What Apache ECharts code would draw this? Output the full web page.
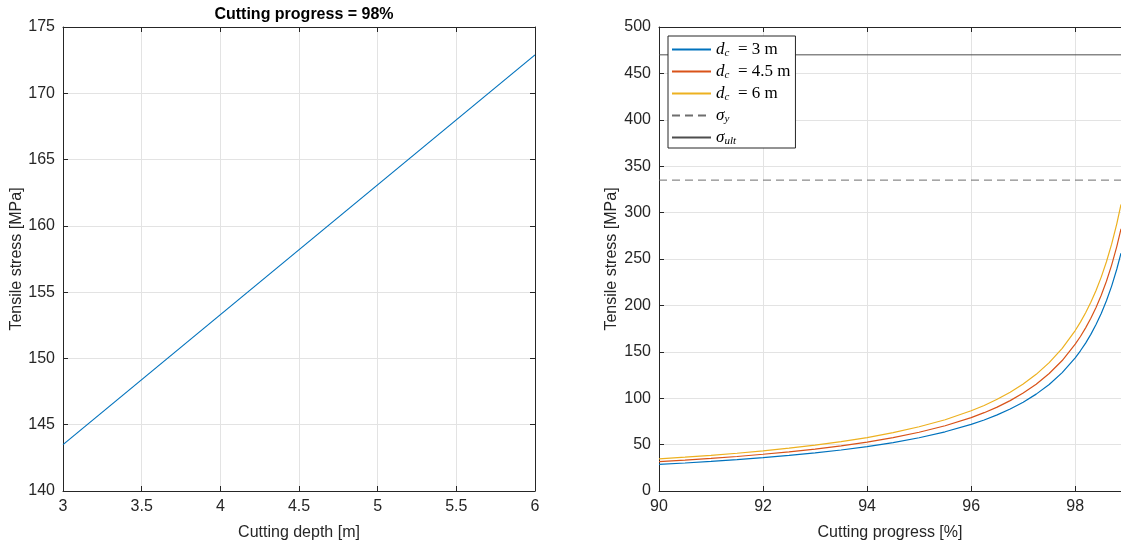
<!DOCTYPE html>
<html>
<head>
    <meta charset="utf-8"/>
    <title>Tensile stress vs cutting</title>
    <script src="https://cdn.jsdelivr.net/npm/echarts@6/dist/echarts.min.js"></script>
</head>
<body style="margin:0;overflow:hidden">
<div id="container" style="width:1121px;height:546px"></div>
<script type="text/javascript">
    // left plot: stress at 98% progress vs cutting depth
    var depth = [3, 6];
    var stressAt98 = [143.5, 172.9];

    // right plot: stress vs cutting progress, one curve per cutting depth
    var progress = [90, 90.5, 91, 91.5, 92, 92.5, 93, 93.5, 94, 94.5, 95, 95.5, 96, 96.25, 96.5, 96.75,
        97, 97.25, 97.5, 97.75, 98, 98.1, 98.2, 98.3, 98.4, 98.5, 98.6, 98.7, 98.8, 98.88];
    var stress3 = [28.7, 30.2, 31.9, 33.8, 35.9, 38.3, 41.0, 44.2, 47.8, 52.2, 57.4, 63.8, 71.8, 76.5, 82.0, 88.3,
        95.7, 104.4, 114.8, 127.6, 143.5, 151.1, 159.4, 168.8, 179.4, 191.3, 205.0, 220.8, 239.2, 256.3];
    var stress45 = [31.6, 33.3, 35.2, 37.2, 39.6, 42.2, 45.2, 48.7, 52.7, 57.5, 63.3, 70.3, 79.1, 84.4, 90.4, 97.4,
        105.5, 115.1, 126.6, 140.6, 158.2, 166.5, 175.8, 186.1, 197.8, 210.9, 226.0, 243.4, 263.7, 282.5];
    var stress6 = [34.6, 36.4, 38.4, 40.7, 43.2, 46.1, 49.4, 53.2, 57.6, 62.9, 69.2, 76.8, 86.5, 92.2, 98.8, 106.4,
        115.3, 125.7, 138.3, 153.7, 172.9, 182.0, 192.1, 203.4, 216.1, 230.5, 247.0, 266.0, 288.2, 308.8];
    var sigmaY = 335;
    var sigmaUlt = 470;

    var progressMax = 98.88;
    var axisCol = '#262626';
    var gridCol = '#e3e3e3';
    var sans = 'Liberation Sans';

    function pairs(xs, ys) {
        return xs.map(function (x, i) { return [x, ys[i]]; });
    }

    function axis(opts) {
        var base = {
            type: 'value',
            axisLine: {show: true, onZero: false, lineStyle: {color: axisCol, width: 1}},
            axisTick: {show: true, inside: true, length: 5, lineStyle: {color: axisCol}},
            axisLabel: {color: axisCol, fontSize: 16, fontFamily: sans},
            splitLine: {show: false},
            nameTextStyle: {color: axisCol, fontSize: 16, fontFamily: sans}
        };
        for (var k in opts) base[k] = opts[k];
        return base;
    }

    var legendNames = {
        'dc3': '{i|d}{s|c}{n|  = 3 m}',
        'dc45': '{i|d}{s|c}{n|  = 4.5 m}',
        'dc6': '{i|d}{s|c}{n|  = 6 m}',
        'sy': '{i|σ}{s|y}',
        'sult': '{i|σ}{s|ult}'
    };

    var dom = document.getElementById("container");
    var myChart = echarts.init(dom);
    var option = {
        animation: false,
        backgroundColor: '#fff',
        title: {
            text: 'Cutting progress = 98%',
            left: 299,
            top: 2,
            textAlign: 'center',
            textStyle: {fontSize: 16, fontWeight: 'bold', fontFamily: sans, color: '#000'}
        },
        grid: [
            {left: 63, width: 472, top: 27, height: 465},
            {left: 659, right: 0, top: 27, height: 465}
        ],
        legend: {
            orient: 'vertical',
            left: 668,
            top: 36,
            padding: [5, 5, 1, 3],
            itemWidth: 39,
            itemHeight: 12,
            itemGap: 4,
            backgroundColor: '#fff',
            borderColor: axisCol,
            borderWidth: 1,
            itemStyle: {opacity: 0},
            data: ['dc3', 'dc45', 'dc6', 'sy', 'sult'],
            formatter: function (name) { return legendNames[name]; },
            textStyle: {
                fontFamily: 'Liberation Serif', fontSize: 16, color: '#000',
                rich: {
                    i: {fontFamily: 'Liberation Serif', fontStyle: 'italic', fontSize: 17, color: '#000'},
                    s: {fontFamily: 'Liberation Serif', fontStyle: 'italic', fontSize: 11, color: '#000', padding: [8, 0, 0, 0]},
                    n: {fontFamily: 'Liberation Serif', fontSize: 17, color: '#000'}
                }
            }
        },
        xAxis: [
            axis({gridIndex: 0, min: 3, max: 6, interval: 0.5, name: 'Cutting depth [m]',
                nameLocation: 'middle', nameGap: 34,
                splitLine: {show: true, lineStyle: {color: gridCol}}}),
            axis({gridIndex: 0, min: 3, max: 6, interval: 0.5, position: 'top', axisLabel: {show: false}}),
            axis({gridIndex: 1, min: 90, max: progressMax, interval: 2, name: 'Cutting progress [%]',
                nameLocation: 'middle', nameGap: 34,
                axisLabel: {color: axisCol, fontSize: 16, fontFamily: sans, showMaxLabel: false},
                splitLine: {show: true, lineStyle: {color: gridCol}}}),
            axis({gridIndex: 1, min: 90, max: progressMax, interval: 2, position: 'top', axisLabel: {show: false}})
        ],
        yAxis: [
            axis({gridIndex: 0, min: 140, max: 175, interval: 5, name: 'Tensile stress [MPa]',
                nameLocation: 'middle', nameGap: 36,
                splitLine: {show: true, lineStyle: {color: gridCol}}}),
            axis({gridIndex: 0, min: 140, max: 175, interval: 5, position: 'right', axisLabel: {show: false}}),
            axis({gridIndex: 1, min: 0, max: 500, interval: 50, name: 'Tensile stress [MPa]',
                nameLocation: 'middle', nameGap: 39,
                splitLine: {show: true, lineStyle: {color: gridCol}}})
        ],
        series: [
            {type: 'line', xAxisIndex: 0, yAxisIndex: 0, symbol: 'none',
                data: pairs(depth, stressAt98), lineStyle: {color: '#0072BD', width: 1.2}},
            {name: 'dc3', type: 'line', xAxisIndex: 2, yAxisIndex: 2, symbol: 'none',
                data: pairs(progress, stress3), lineStyle: {color: '#0072BD', width: 1.2}, itemStyle: {color: '#0072BD'}},
            {name: 'dc45', type: 'line', xAxisIndex: 2, yAxisIndex: 2, symbol: 'none',
                data: pairs(progress, stress45), lineStyle: {color: '#D95319', width: 1.2}, itemStyle: {color: '#D95319'}},
            {name: 'dc6', type: 'line', xAxisIndex: 2, yAxisIndex: 2, symbol: 'none',
                data: pairs(progress, stress6), lineStyle: {color: '#EDB120', width: 1.2}, itemStyle: {color: '#EDB120'}},
            {name: 'sy', type: 'line', xAxisIndex: 2, yAxisIndex: 2, symbol: 'none',
                data: [[90, sigmaY], [progressMax, sigmaY]],
                lineStyle: {color: '#6e6e6e', width: 1, type: [8, 5]}, itemStyle: {color: '#6e6e6e'}},
            {name: 'sult', type: 'line', xAxisIndex: 2, yAxisIndex: 2, symbol: 'none',
                data: [[90, sigmaUlt], [progressMax, sigmaUlt]],
                lineStyle: {color: '#4d4d4d', width: 1}, itemStyle: {color: '#4d4d4d'}}
        ]
    };
    myChart.setOption(option, true);
</script>
</body>
</html>
